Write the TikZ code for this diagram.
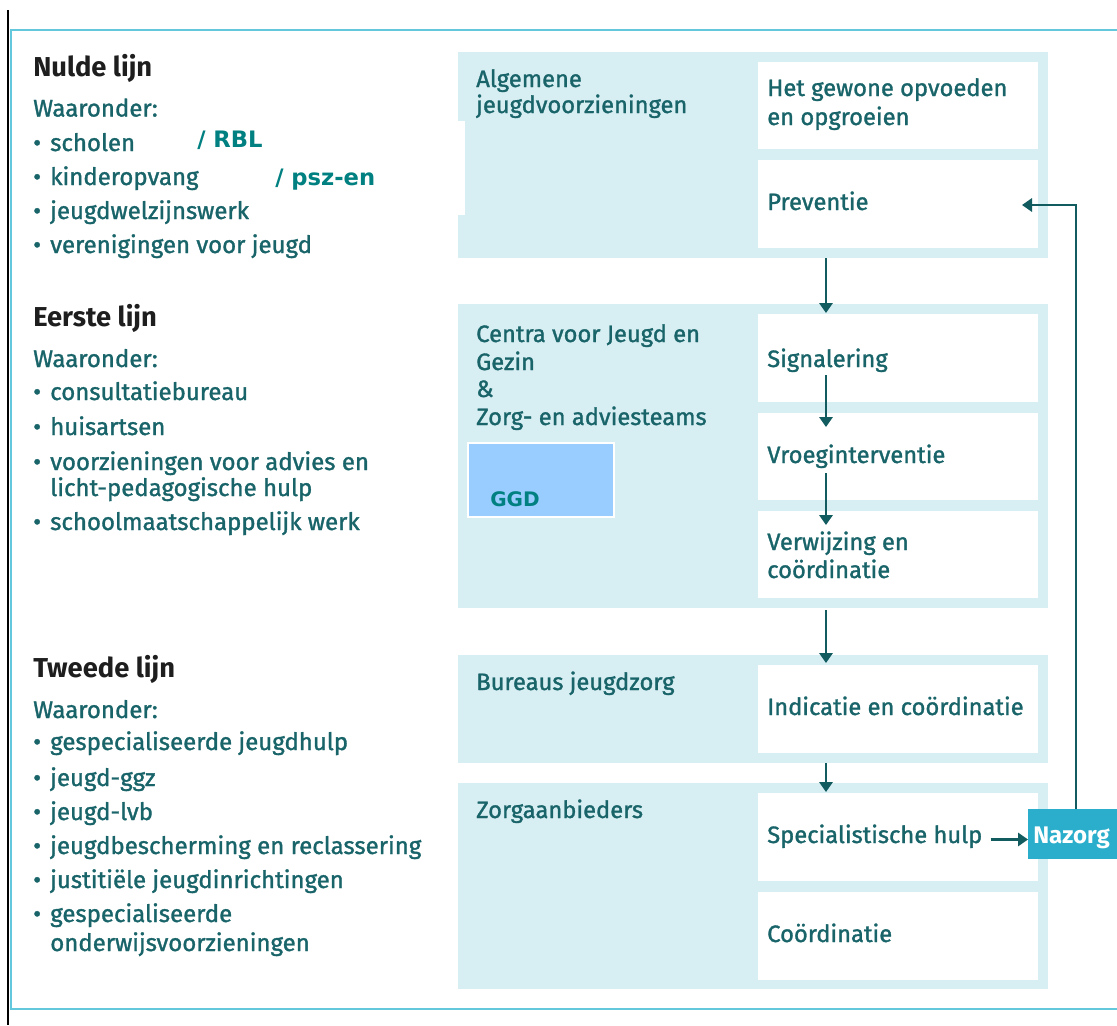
\documentclass[tikz,border=0pt]{standalone}
\usepackage{fontspec}
\setmainfont{Fira Sans}
\newfontfamily\medfont{Fira Sans}[FakeBold=1.3]
\newfontfamily\comicfont{DejaVu Sans}
\usetikzlibrary{arrows.meta}
\definecolor{panel}{RGB}{215,238,243}
\definecolor{tealtext}{RGB}{24,100,105}
\definecolor{arrowc}{RGB}{18,92,96}
\definecolor{framec}{RGB}{100,200,220}
\definecolor{nazorgc}{RGB}{42,174,203}
\definecolor{ggdc}{RGB}{153,204,255}
\definecolor{overlayc}{RGB}{0,128,128}
\definecolor{headc}{RGB}{30,30,30}
\newcommand\rbox[6]{\node[#6, anchor=north west, inner sep=0pt, outer sep=0pt,
  minimum width={(#4-#2)*0.75pt}, minimum height={(#5-#3)*0.75pt}] (#1) at (#2,#3) {};}
\newcommand\bul{\makebox[12.75pt][l]{•}}
\tikzset{
  panelbox/.style={fill=panel, draw=none},
  whitebox/.style={fill=white, draw=none},
  ggdbox/.style={fill=ggdc, draw=white, line width=1.5pt},
  nazbox/.style={fill=nazorgc, draw=none},
  lt/.style={anchor=base west, inner sep=0pt, text=tealtext, font=\medfont\fontsize{18pt}{22pt}\selectfont},
  hd/.style={anchor=base west, inner sep=0pt, text=headc, font=\fontsize{20.5pt}{24pt}\selectfont\bfseries},
  rt/.style={anchor=base west, inner sep=0pt, text=tealtext, font=\medfont\fontsize{17.8pt}{22pt}\selectfont},
  ov/.style={anchor=base west, inner sep=0pt, text=overlayc, font=\comicfont\bfseries\fontsize{17pt}{20pt}\selectfont},
  flow/.style={draw=arrowc, line width=1.6pt, -{Triangle[width=10pt,length=7.5pt]}},
}
\begin{document}
\begin{tikzpicture}[x=0.75pt,y=-0.75pt]
\fill[white] (0,0) rectangle (1117,1025);
\useasboundingbox (0,0) rectangle (1117,1025);
\clip (0,0) rectangle (1117,1025);
% frame
\draw[framec, line width=1.5pt] (1120,30) -- (11,30) -- (11,1009) -- (1120,1009);
\draw[black, line width=1.6pt] (8.3,10) -- (8.3,1025);
% panels
\rbox{p1}{458}{52}{1048}{258}{panelbox}
\rbox{b1}{758}{62}{1038}{149}{whitebox}
\rbox{b2}{758}{160}{1038}{248}{whitebox}
\rbox{p2}{458}{304}{1048}{608}{panelbox}
\rbox{b3}{758}{314}{1038}{402}{whitebox}
\rbox{b4}{758}{413}{1038}{500}{whitebox}
\rbox{b5}{758}{511}{1038}{598}{whitebox}
\rbox{p3}{458}{655}{1048}{763}{panelbox}
\rbox{b6}{758}{665}{1038}{753}{whitebox}
\rbox{p4}{458}{783}{1048}{989}{panelbox}
\rbox{b7}{758}{793}{1038}{881}{whitebox}
\rbox{b8}{758}{892}{1038}{980}{whitebox}
\rbox{notch}{440}{121}{465}{215}{whitebox}
\rbox{ggd}{468}{443}{614}{517}{ggdbox}
\rbox{naz}{1028}{809}{1124}{859}{nazbox}
% left column
\node[hd] (h1) at (33,76) {Nulde lijn};
\node[lt] (w1) at (33,116.5) {Waaronder:};
\node[lt] (n1) at (33,151) {\bul scholen};
\node[lt] (n2) at (33,185) {\bul kinderopvang};
\node[lt] (n3) at (33,219) {\bul jeugdwelzijnswerk};
\node[lt] (n4) at (33,253) {\bul verenigingen voor jeugd};
\node[ov] (o1) at (197,147) {/ RBL};
\node[ov] (o2) at (275,185) {/ psz-en};
\node[hd] (h2) at (33,326) {Eerste lijn};
\node[lt] (w2) at (33,367) {Waaronder:};
\node[lt] (e1) at (33,400) {\bul consultatiebureau};
\node[lt] (e2) at (33,435) {\bul huisartsen};
\node[lt] (e3) at (33,470) {\bul voorzieningen voor advies en};
\node[lt] (e3b) at (50,496) {licht-pedagogische hulp};
\node[lt] (e4) at (33,530) {\bul schoolmaatschappelijk werk};
\node[hd] (h3) at (33,677) {Tweede lijn};
\node[lt] (w3) at (33,718) {Waaronder:};
\node[lt] (t1) at (33,750) {\bul gespecialiseerde jeugdhulp};
\node[lt] (t2) at (33,786) {\bul jeugd-ggz};
\node[lt] (t3) at (33,820) {\bul jeugd-lvb};
\node[lt] (t4) at (33,854) {\bul jeugdbescherming en reclassering};
\node[lt] (t5) at (33,888) {\bul justitiële jeugdinrichtingen};
\node[lt] (t6) at (33,922) {\bul gespecialiseerde};
\node[lt] (t6b) at (50,951) {onderwijsvoorzieningen};
% right column texts
\node[rt] (a1) at (476,87) {Algemene};
\node[rt] (a2) at (476,113) {jeugdvoorzieningen};
\node[rt] (bt1) at (767,96) {Het gewone opvoeden};
\node[rt] (bt1b) at (767,125) {en opgroeien};
\node[rt] (bt2) at (767,210) {Preventie};
\node[rt] (c1) at (476,342) {Centra voor Jeugd en};
\node[rt] (c2) at (476,370) {Gezin};
\node[rt] (c3) at (476,397) {\&};
\node[rt] (c4) at (476,425) {Zorg- en adviesteams};
\node[ov, font=\comicfont\bfseries\fontsize{15pt}{18pt}\selectfont] (ggdt) at (490,506) {GGD};
\node[rt] (bt3) at (767,367) {Signalering};
\node[rt] (bt4) at (767,463) {Vroeginterventie};
\node[rt] (bt5) at (767,550) {Verwijzing en};
\node[rt] (bt5b) at (767,578) {coördinatie};
\node[rt] (d1) at (476,690) {Bureaus jeugdzorg};
\node[rt] (bt6) at (767,715) {Indicatie en coördinatie};
\node[rt] (z1) at (476,818) {Zorgaanbieders};
\node[rt] (bt7) at (767,843) {Specialistische hulp};
\node[rt] (bt8) at (767,942) {Coördinatie};
\node[anchor=base west, inner sep=0pt, text=white, font=\fontsize{18pt}{22pt}\selectfont\bfseries] (nazt) at (1033,843) {Nazorg};
% connectors
\coordinate (ax) at (826,0);
\coordinate (ftip) at (1022,205);
\draw[flow, shorten >=-6.75pt] (p1.south -| ax) -- (p2.north -| ax);
\draw[flow, shorten <=-20.25pt, shorten >=-10.5pt] (b3.south -| ax) -- (b4.north -| ax);
\draw[flow, shorten <=-20.25pt, shorten >=-10.5pt] (b4.south -| ax) -- (b5.north -| ax);
\draw[flow, shorten <=1.5pt, shorten >=-6pt] (p2.south -| ax) -- (p3.north -| ax);
\draw[flow, shorten >=-6.75pt] (p3.south -| ax) -- (p4.north -| ax);
\draw[flow] ([xshift=6pt]bt7.mid east) -- (bt7.mid east -| naz.west);
\draw[flow] (naz.north) |- (ftip);
\end{tikzpicture}
\end{document}
